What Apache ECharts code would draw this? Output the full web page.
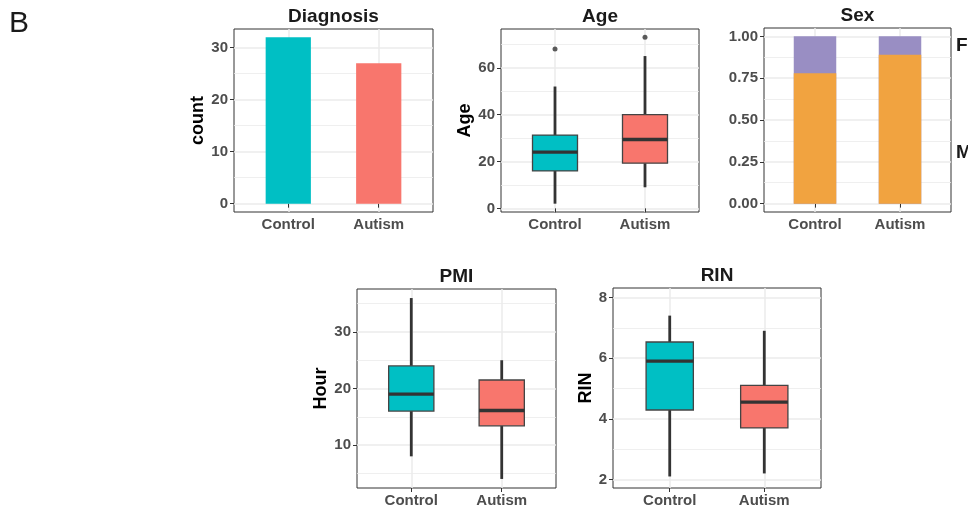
<!DOCTYPE html>
<html><head><meta charset="utf-8">
<script src="https://cdn.jsdelivr.net/npm/echarts@6/dist/echarts.min.js"></script>
<style>html,body{margin:0;padding:0;background:#fff}#c{width:968px;height:506px}</style>
</head><body><div id="c"></div>
<script>
// ---- data ----
const categories = ['Control', 'Autism'];
const diagnosisCount = [32, 27];
// box stats: [lower whisker, Q1, median, Q3, upper whisker]
const ageControl = [2, 16, 24, 31.3, 52];
const ageAutism = [9, 19.3, 29.4, 40, 65];
const ageOutliers = [68, 73];
const sexMale = [0.78, 0.89];
const sexFemale = [0.22, 0.11];
const pmiControl = [8, 16, 19, 24, 36];
const pmiAutism = [4, 13.4, 16.1, 21.5, 25];
const rinControl = [2.1, 4.29, 5.9, 6.53, 7.4];
const rinAutism = [2.2, 3.7, 4.55, 5.1, 6.9];
// tick labels / grid breaks
const countTicks = [0, 10, 20, 30];
const countMinor = [5, 15, 25];
const ageTicks = [0, 20, 40, 60];
const ageMinor = [10, 30, 50, 70];
const sexTicks = [0, 0.25, 0.5, 0.75, 1];
const sexMinor = [0.125, 0.375, 0.625, 0.875];
const pmiTicks = [10, 20, 30];
const pmiMinor = [5, 15, 25, 35];
const rinTicks = [2, 4, 6, 8];
const rinMinor = [3, 5, 7];
const sexKeyLabels = ['F', 'M'];
const sexKeyAt = [0.945, 0.305];

// ---- styling ----
const FONT = '"Liberation Sans", Arial, Helvetica, sans-serif';
const fills = ['#00BFC4', '#F8766D'];
const maleColor = '#F1A340', femaleColor = '#998EC3';
const GRID_MAJOR = '#EBEBEB';

const panels = [
  {title: 'Diagnosis', yName: 'count', rect: [234, 29, 199, 183], ext: [-1.6, 33.6], ticks: countTicks, minor: countMinor, gap: 24},
  {title: 'Age', yName: 'Age', rect: [501, 29, 198, 183], ext: [-1.55, 76.55], ticks: ageTicks, minor: ageMinor, gap: 26},
  {title: 'Sex', yName: '', rect: [764, 28, 187, 184], ext: [-0.05, 1.05], ticks: sexTicks, minor: sexMinor, fmt: v => v.toFixed(2), gap: 0},
  {title: 'PMI', yName: 'Hour', rect: [357, 289, 199, 199], ext: [2.4, 37.6], ticks: pmiTicks, minor: pmiMinor, gap: 27},
  {title: 'RIN', yName: 'RIN', rect: [613, 288, 208, 200], ext: [1.72, 8.31], ticks: rinTicks, minor: rinMinor, gap: 17}
];

const grid = [], xAxis = [], yAxis = [], title = [];
panels.forEach((p, i) => {
  const [l, t, w, h] = p.rect;
  grid.push({left: l, top: t, width: w, height: h, show: true, borderColor: '#333', borderWidth: 1, backgroundColor: '#fff',
    containLabel: false, outerBoundsMode: 'none'});
  title.push({text: p.title, left: l + w / 2, top: t - 22, textAlign: 'center',
    textStyle: {fontFamily: FONT, fontSize: 19, fontWeight: 'bold', color: '#1a1a1a'}, padding: 0});
  xAxis.push({
    type: 'value', gridIndex: i, min: 0.4, max: 2.6,
    axisLine: {show: false},
    axisTick: {show: true, length: 4, lineStyle: {color: '#333', width: 1}, customValues: [1, 2]},
    axisLabel: {customValues: [1, 2], formatter: v => categories[Math.round(v) - 1], margin: 5,
      fontFamily: FONT, fontSize: 15, fontWeight: 'bold', color: '#4D4D4D'},
    splitLine: {show: true, lineStyle: {color: GRID_MAJOR, width: 1.5}}
  });
  yAxis.push({
    type: 'value', gridIndex: i, min: p.ext[0], max: p.ext[1], position: 'left',
    name: p.yName, nameLocation: 'middle', nameRotate: 90, nameGap: p.gap,
    nameTextStyle: {fontFamily: FONT, fontSize: 18, fontWeight: 'bold', color: '#000'},
    axisLine: {show: false},
    axisTick: {show: true, length: 4, lineStyle: {color: '#333', width: 1}, customValues: p.ticks},
    axisLabel: {customValues: p.ticks, formatter: p.fmt || (v => String(v)), margin: 6,
      fontFamily: FONT, fontSize: 15, fontWeight: 'bold', color: '#4D4D4D'},
    splitLine: {show: true, lineStyle: {color: GRID_MAJOR, width: 1.5}}
  });
  yAxis.push({
    type: 'value', gridIndex: i, min: p.ext[0], max: p.ext[1], position: 'left',
    axisLine: {show: false},
    axisTick: {show: false, customValues: p.minor},
    axisLabel: {show: false, customValues: p.minor},
    splitLine: {show: true, lineStyle: {color: GRID_MAJOR, width: 0.8}}
  });
});
// right-hand key for the Sex panel
yAxis.push({
  type: 'value', gridIndex: 2, min: panels[2].ext[0], max: panels[2].ext[1], position: 'right',
  axisLine: {show: false}, axisTick: {show: false, customValues: sexKeyAt},
  splitLine: {show: false},
  axisLabel: {customValues: sexKeyAt, margin: 5, align: 'left', hideOverlap: false,
    formatter: v => sexKeyLabels[sexKeyAt.findIndex(a => Math.abs(a - v) < 1e-6)],
    fontFamily: FONT, fontSize: 19, fontWeight: 'bold', color: '#1a1a1a'}
});

function boxRender(params, api) {
  const x = api.value(0);
  const pt = k => api.coord([x, api.value(k)]);
  const lo = pt(1), q1 = pt(2), md = pt(3), q3 = pt(4), hi = pt(5);
  const hw = api.size([0.5, 0])[0] / 2;
  const cx = lo[0];
  return {type: 'group', children: [
    {type: 'line', shape: {x1: cx, y1: lo[1], x2: cx, y2: q1[1]}, style: {stroke: '#333', lineWidth: 2.8}},
    {type: 'line', shape: {x1: cx, y1: q3[1], x2: cx, y2: hi[1]}, style: {stroke: '#333', lineWidth: 2.8}},
    {type: 'rect', shape: {x: cx - hw, y: q3[1], width: hw * 2, height: q1[1] - q3[1]},
      style: {fill: fills[params.dataIndex], stroke: '#444', lineWidth: 1.3}},
    {type: 'line', shape: {x1: cx - hw, y1: md[1], x2: cx + hw, y2: md[1]}, style: {stroke: '#333', lineWidth: 3.4}}
  ]};
}
function boxSeries(xi, yi, ctrl, aut) {
  return {type: 'custom', xAxisIndex: xi, yAxisIndex: yi, renderItem: boxRender,
    encode: {x: 0, y: [1, 2, 3, 4, 5]}, z: 3,
    data: [[1].concat(ctrl), [2].concat(aut)]};
}
const barW = i => panels[i].rect[2] * 0.5 / 2.2;

const series = [
  {type: 'bar', xAxisIndex: 0, yAxisIndex: 0, barWidth: barW(0), z: 3,
    data: categories.map((c, j) => ({value: [j + 1, diagnosisCount[j]], itemStyle: {color: fills[j]}}))},
  boxSeries(1, 2, ageControl, ageAutism),
  {type: 'scatter', xAxisIndex: 1, yAxisIndex: 2, symbolSize: 5, z: 4, itemStyle: {color: '#333'},
    data: ageOutliers.map((v, j) => [j + 1, v])},
  // female segment sits on top of the male segment: its bar top is male + female
  {type: 'bar', xAxisIndex: 2, yAxisIndex: 4, barWidth: barW(2), barGap: '-100%', z: 3, itemStyle: {color: femaleColor},
    data: sexFemale.map((v, j) => [j + 1, sexMale[j] + v])},
  {type: 'bar', xAxisIndex: 2, yAxisIndex: 4, barWidth: barW(2), barGap: '-100%', z: 4, itemStyle: {color: maleColor},
    data: sexMale.map((v, j) => [j + 1, v])},
  boxSeries(3, 6, pmiControl, pmiAutism),
  boxSeries(4, 8, rinControl, rinAutism)
];

const chart = echarts.init(document.getElementById('c'), null, {renderer: 'canvas'});
chart.setOption({
  animation: false,
  textStyle: {fontFamily: FONT},
  title, grid, xAxis, yAxis, series,
  graphic: [{type: 'text', left: 9, top: 9, style: {text: 'B', fontSize: 30, fontFamily: FONT, fill: '#1a1a1a'}}]
});
</script></body></html>
